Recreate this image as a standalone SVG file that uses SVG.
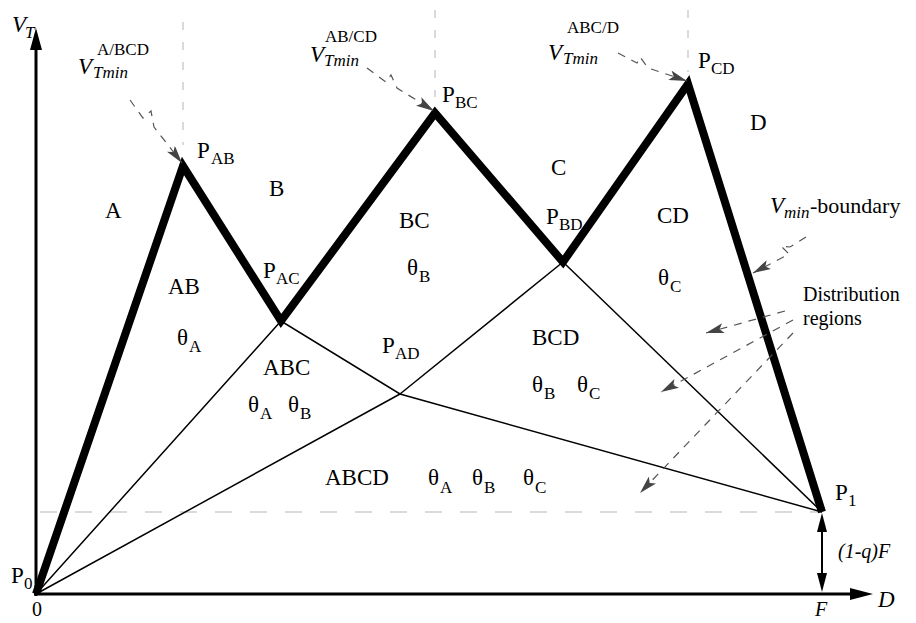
<svg xmlns="http://www.w3.org/2000/svg" width="916" height="623" viewBox="0 0 916 623" font-family="'Liberation Serif','Times New Roman',serif">
<defs>
<style>
text{font-family:"Liberation Serif","Times New Roman","DejaVu Serif",serif}
.t{font-size:23px;fill:#000}
.s{font-size:17px}
.i{font-style:italic}
.thick{fill:none;stroke:#000;stroke-width:8;stroke-linejoin:miter;stroke-miterlimit:10}
.thin{fill:none;stroke:#000;stroke-width:1.5}
.axis{fill:none;stroke:#000;stroke-width:3}
.vdot{fill:none;stroke:#b5b5b5;stroke-width:1;stroke-dasharray:8 12}
.hdot{fill:none;stroke:#b5b5b5;stroke-width:1.2;stroke-dasharray:17 18}
.dash{fill:none;stroke:#555;stroke-width:1.2;stroke-dasharray:8 7;marker-end:url(#ga)}
</style>
<marker id="ga" viewBox="0 0 18 10" refX="18" refY="5" markerWidth="18" markerHeight="10" markerUnits="userSpaceOnUse" orient="auto">
<path d="M0,0 L18,5 L0,10 L4,5 Z" fill="#444"/>
</marker>
</defs>
<rect width="916" height="623" fill="#fff"/>

<g id="guides">
<line class="vdot" x1="183" y1="22" x2="183" y2="145"/>
<line class="vdot" x1="435" y1="10" x2="435" y2="97"/>
<line class="vdot" x1="688" y1="10" x2="688" y2="72"/>
<line class="hdot" x1="40" y1="512" x2="820" y2="512"/>
</g>

<g id="axis-labels">
<text class="t i" x="12" y="32">V</text>
<text class="t i s" x="25" y="38">T</text>
<text class="t" x="32" y="616" style="font-size:20px">0</text>
<text class="t i" x="815" y="616" style="font-size:20px">F</text>
<text class="t i" x="878" y="607">D</text>
<text class="t i" x="838" y="558" style="font-size:20px">(1-q)F</text>
</g>

<g id="axes">
<line class="axis" x1="36" y1="596" x2="36" y2="48"/>
<polygon points="36,28 30,50 42,50" fill="#000"/>
<line class="axis" x1="34" y1="594" x2="852" y2="594"/>
<polygon points="873,594 850,588 850,600" fill="#000"/>
<line x1="822" y1="528" x2="822" y2="576" stroke="#000" stroke-width="2"/>
<polygon points="822,513 817,532 827,532" fill="#000"/>
<polygon points="822,592 817,573 827,573" fill="#000"/>
</g>

<g id="connectors">
<polyline class="thin" points="36,594 281,321 400,394 822,512"/>
<line class="thin" x1="36" y1="594" x2="400" y2="394"/>
<line class="thin" x1="400" y1="394" x2="563" y2="262"/>
<line class="thin" x1="563" y1="262" x2="822" y2="512"/>
<polyline class="thick" points="36,594 183,166 281,321 435,113 563,262 688,84 822,512"/>
</g>

<g id="callouts">
<path class="dash" d="M130,100 L143,118 L151,111 L154,127 L182,163"/>
<path class="dash" d="M367,68 L386,82 L391,75 L397,88 L434,111"/>
<path class="dash" d="M618,53 L637,63 L640,57 L648,68 L687,81"/>
<path class="dash" d="M806,237 L790,247 L781,246 L789,254 L753,273"/>
<path class="dash" d="M785,311 L706,333"/>
<path class="dash" d="M793,320 L661,392"/>
<path class="dash" d="M793,333 L640,493"/>
</g>

<g id="vmin-labels">
<g id="lbl-a-bcd"><text class="t i" x="78" y="74">V</text><text class="t i s" x="93" y="78">Tmin</text><text class="t s" x="97" y="55">A/BCD</text></g>
<g id="lbl-ab-cd"><text class="t i" x="310" y="62">V</text><text class="t i s" x="324" y="66">Tmin</text><text class="t s" x="325" y="42">AB/CD</text></g>
<g id="lbl-abc-d"><text class="t i" x="548" y="60">V</text><text class="t i s" x="563" y="64">Tmin</text><text class="t s" x="567" y="33">ABC/D</text></g>
<g id="lbl-vmin"><text class="t i" x="770" y="213">V</text><text class="t i s" x="784" y="218">min</text><text class="t" x="810" y="213" style="font-size:22px">-boundary</text></g>
<g id="lbl-dist"><text class="t" x="803" y="301" style="font-size:20px">Distribution</text><text class="t" x="803" y="325" style="font-size:20px">regions</text></g>
</g>

<g id="points">
<g id="P0"><text class="t" x="11" y="583">P</text><text class="t s" x="24" y="589">0</text></g>
<g id="PAB"><text class="t" x="197" y="158">P</text><text class="t s" x="211" y="164">AB</text></g>
<g id="PAC"><text class="t" x="263" y="278">P</text><text class="t s" x="276" y="284">AC</text></g>
<g id="PBC"><text class="t" x="442" y="102">P</text><text class="t s" x="455" y="108">BC</text></g>
<g id="PBD"><text class="t" x="546" y="224">P</text><text class="t s" x="559" y="230">BD</text></g>
<g id="PCD"><text class="t" x="698" y="68">P</text><text class="t s" x="711" y="74">CD</text></g>
<g id="PAD"><text class="t" x="382" y="353">P</text><text class="t s" x="395" y="359">AD</text></g>
<g id="P1"><text class="t" x="835" y="500">P</text><text class="t s" x="848" y="506">1</text></g>
</g>

<g id="regions">
<g id="rA"><text class="t" x="105" y="218">A</text></g>
<g id="rB"><text class="t" x="269" y="196">B</text></g>
<g id="rC"><text class="t" x="551" y="175">C</text></g>
<g id="rD"><text class="t" x="750" y="130">D</text></g>
<g id="rAB"><text class="t" x="168" y="294">AB</text><text class="t" x="177" y="345">θ</text><text class="t s" x="189" y="352">A</text></g>
<g id="rBC"><text class="t" x="399" y="228">BC</text><text class="t" x="407" y="275">θ</text><text class="t s" x="419" y="282">B</text></g>
<g id="rCD"><text class="t" x="657" y="223">CD</text><text class="t" x="658" y="285">θ</text><text class="t s" x="670" y="292">C</text></g>
<g id="rABC"><text class="t" x="263" y="375">ABC</text><text class="t" x="248" y="412">θ</text><text class="t s" x="260" y="419">A</text><text class="t" x="288" y="412">θ</text><text class="t s" x="300" y="419">B</text></g>
<g id="rBCD"><text class="t" x="532" y="345">BCD</text><text class="t" x="532" y="392">θ</text><text class="t s" x="544" y="399">B</text><text class="t" x="577" y="392">θ</text><text class="t s" x="589" y="399">C</text></g>
<g id="rABCD"><text class="t" x="325" y="485">ABCD</text><text class="t" x="428" y="485">θ</text><text class="t s" x="440" y="493">A</text><text class="t" x="472" y="485">θ</text><text class="t s" x="484" y="493">B</text><text class="t" x="523" y="485">θ</text><text class="t s" x="535" y="493">C</text></g>
</g>
</svg>
